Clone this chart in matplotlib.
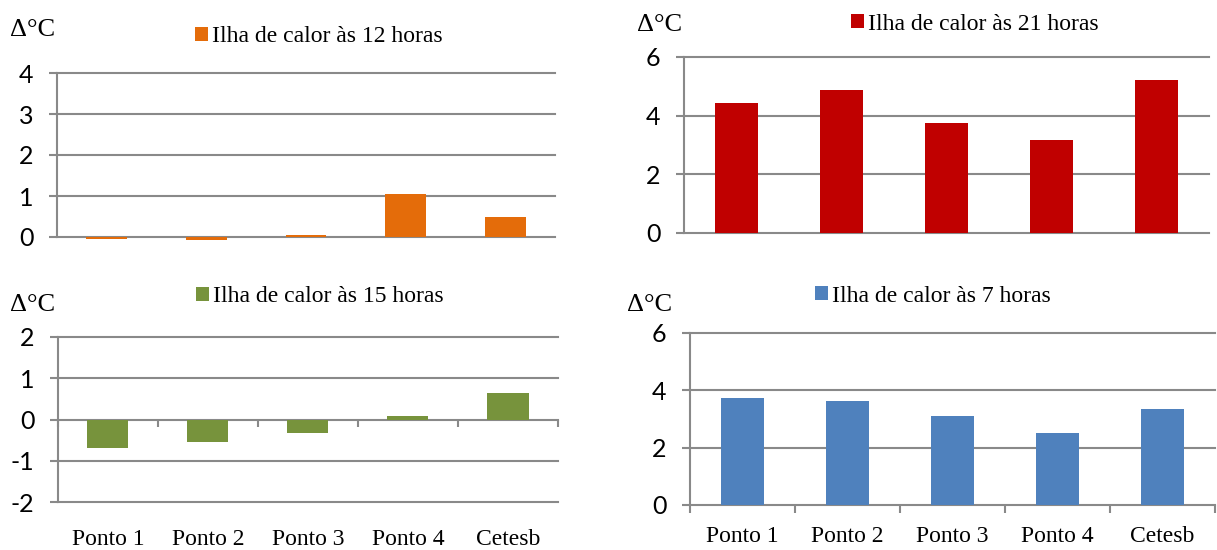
import numpy as np
import matplotlib.pyplot as plt

# Dados (diferença de temperatura em °C)
pontos = ["Ponto 1", "Ponto 2", "Ponto 3", "Ponto 4", "Cetesb"]
ilha_12h = [-0.05, -0.08, 0.04, 1.06, 0.48]
ilha_21h = [4.42, 4.89, 3.74, 3.17, 5.21]
ilha_15h = [-0.69, -0.55, -0.32, 0.09, 0.64]
ilha_7h = [3.73, 3.64, 3.10, 2.52, 3.34]

SERIF = "Liberation Serif"
SANS = "Lato"
GRID = "#898989"


# Função para desenhar um painel de barras no estilo Excel
def plot_panel(fig, rect, valores, cor, titulo, yticks, rotulos_y, leg_xy, delta_xy):
    ax = fig.add_axes(rect)
    x = np.arange(len(pontos))
    ax.bar(x, valores, width=0.41, color=cor, zorder=3, clip_on=False, label=titulo)
    ax.set_xlim(-0.5, len(pontos) - 0.5)
    ax.set_ylim(yticks[0], yticks[-1])
    ax.set_yticks(yticks)
    ax.set_yticklabels([str(v) for v in yticks], fontfamily=SANS, fontsize=18)
    for v in yticks:
        ax.axhline(v, color=GRID, lw=1.5, zorder=1, clip_on=False)
    for s in ["top", "right", "bottom"]:
        ax.spines[s].set_visible(False)
    ax.spines["left"].set_color(GRID)
    ax.spines["left"].set_linewidth(1.5)
    ax.tick_params(axis="y", length=6, width=1.5, color=GRID, pad=11)
    ax.set_xticks([])
    if rotulos_y is not None:
        # marcas entre categorias na linha do zero
        bordas = np.arange(len(pontos) + 1) - 0.5
        ax.vlines(bordas, 0, -0.045 * (yticks[-1] - yticks[0]), color=GRID, lw=1.5, clip_on=False)
        for xi, nome in zip(x, pontos):
            ax.text(xi, rotulos_y, nome, transform=ax.get_xaxis_transform(), ha="center", va="center",
                    fontfamily=SERIF, fontsize=17)
    ax.legend(loc="center left", bbox_to_anchor=leg_xy, bbox_transform=fig.transFigure,
              frameon=False, prop={"family": SERIF, "size": 17}, handlelength=0.55, handleheight=0.55,
              handletextpad=0.15, borderpad=0, borderaxespad=0)
    fig.text(delta_xy[0], delta_xy[1], "Δ°C", fontfamily=SERIF, fontsize=19, ha="left", va="center")
    return ax


W, H = 1217, 550
fig = plt.figure(figsize=(W / 100, H / 100), dpi=100)

plot_panel(fig, [57 / W, 1 - 237 / H, 498 / W, 164 / H], ilha_12h, "#E46C0A",
           "Ilha de calor às 12 horas", [0, 1, 2, 3, 4], None, (195 / W, 1 - 37 / H), (10 / W, 1 - 30 / H))
plot_panel(fig, [684 / W, 1 - 233 / H, 525 / W, 176 / H], ilha_21h, "#C00000",
           "Ilha de calor às 21 horas", [0, 2, 4, 6], None, (851 / W, 1 - 24 / H), (637 / W, 1 - 25 / H))
plot_panel(fig, [58 / W, 1 - 502 / H, 500 / W, 165 / H], ilha_15h, "#77933C",
           "Ilha de calor às 15 horas", [-2, -1, 0, 1, 2], -0.225, (196 / W, 1 - 297 / H), (10 / W, 1 - 305 / H))
plot_panel(fig, [690 / W, 1 - 505 / H, 525 / W, 172 / H], ilha_7h, "#4F81BD",
           "Ilha de calor às 7 horas", [0, 2, 4, 6], -0.185, (815 / W, 1 - 296 / H), (627 / W, 1 - 305 / H))

fig.savefig("out.png", dpi=100)
